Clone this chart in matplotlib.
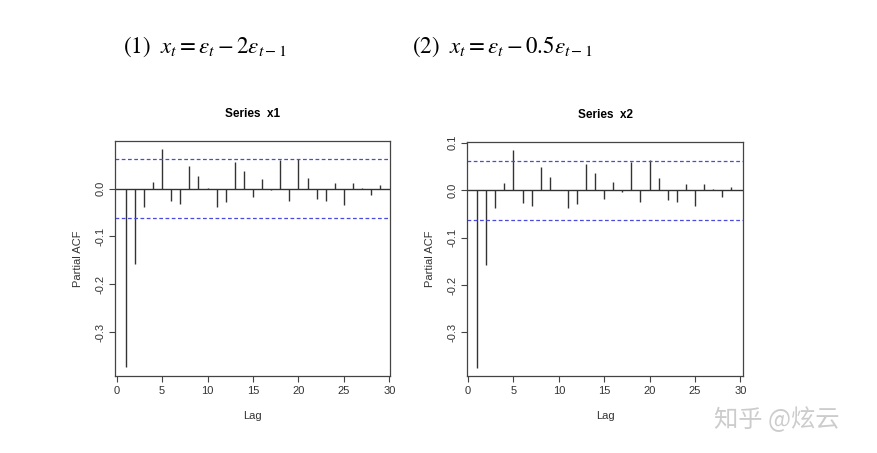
import matplotlib
matplotlib.use("Agg")
import matplotlib.pyplot as plt
import numpy as np

plt.rcParams['mathtext.fontset'] = 'stix'
plt.rcParams['font.family'] = ['Liberation Sans', 'DejaVu Sans']

lags = list(range(1, 30))
pacf_x1 = [-0.374, -0.158, -0.038, 0.013, 0.082, -0.025, -0.033, 0.048, 0.027, 0.001,
           -0.038, -0.029, 0.055, 0.037, -0.018, 0.020, -0.003, 0.059, -0.025, 0.061,
           0.023, -0.021, -0.026, 0.011, -0.034, 0.012, 0.001, -0.013, 0.008]
pacf_x2 = [-0.375, -0.158, -0.037, 0.016, 0.084, -0.027, -0.033, 0.048, 0.027, 0.001,
           -0.037, -0.029, 0.055, 0.036, -0.018, 0.018, -0.004, 0.059, -0.025, 0.063,
           0.025, -0.020, -0.025, 0.012, -0.033, 0.012, 0.002, -0.015, 0.006]
conf = 0.062
titles = ["Series  x1", "Series  x2"]
headings = [r"(1)$\ \ x_t = \varepsilon_t - 2\varepsilon_{t-1}$",
            r"(2)$\ \ x_t = \varepsilon_t - 0.5\varepsilon_{t-1}$"]
xticks = [0, 5, 10, 15, 20, 25, 30]
yticks_list = [[-0.3, -0.2, -0.1, 0.0], [-0.3, -0.2, -0.1, 0.0, 0.1]]

W, H = 877, 453
fig = plt.figure(figsize=(W / 100, H / 100), dpi=100)

boxes = [(115, 141, 390, 376), (467, 142, 743, 376)]
ylims = [(-0.392, 0.0995), (-0.392, 0.1015)]
xlims = [(-0.19, 30.08), (-0.12, 30.3)]
heading_x = [123, 412]

for i, (data, box) in enumerate(zip([pacf_x1, pacf_x2], boxes)):
    l, t, r, b = box
    ax = fig.add_axes([l / W, 1 - b / H, (r - l) / W, (b - t) / H])
    ax.vlines(lags, 0, data, color='#333333', lw=1.0)
    ax.axhline(0, color='#333333', lw=1.0)
    ax.axhline(conf, color='#4a4ae0', lw=0.9, ls=(0, (3, 2)))
    ax.axhline(-conf, color='#4a4ae0', lw=0.9, ls=(0, (3, 2)))
    ax.set_xlim(*xlims[i])
    ax.set_ylim(*ylims[i])
    ax.set_xticks(xticks)
    ax.set_yticks(yticks_list[i])
    ax.set_xticklabels([str(v) for v in xticks], fontsize=8, color='#333333')
    ax.set_yticklabels([f"{v:.1f}" for v in yticks_list[i]], fontsize=8,
                       rotation=90, va='center', color='#333333')
    ax.tick_params(length=4, width=0.8, color='#444444', pad=3)
    for s in ax.spines.values():
        s.set_color('#444444')
        s.set_linewidth(0.9)
    ax.set_xlabel("Lag", fontsize=8, color='#333333', labelpad=11)
    ax.set_ylabel("Partial ACF", fontsize=8, color='#333333', labelpad=9)
    ax.set_title(titles[i], fontsize=8.5, fontweight='bold', pad=17)
    fig.text(heading_x[i] / W, 1 - 47 / H, headings[i], fontsize=16.5,
             ha='left', va='center', family='STIXGeneral')

fig.text(714 / W, 1 - 420 / H, "知乎 @炫云", fontsize=17.5, color='#cccccc',
         family=['Noto Sans CJK SC', 'DejaVu Sans'], ha='left', va='center')

fig.savefig("out.png", dpi=100)
